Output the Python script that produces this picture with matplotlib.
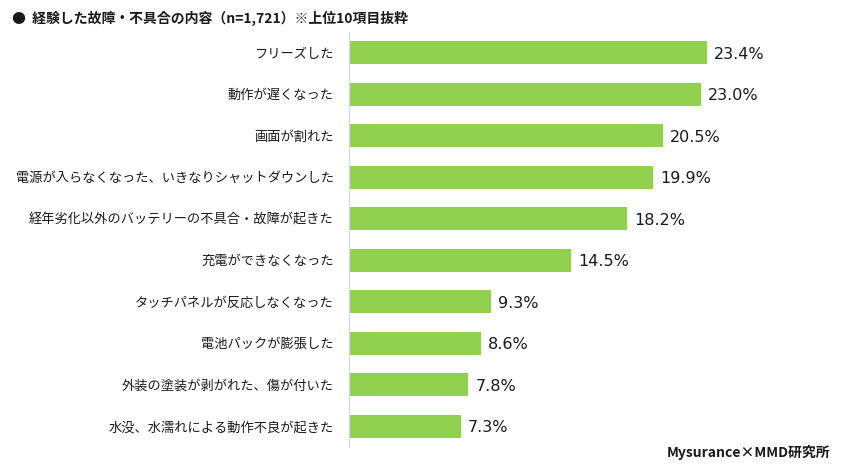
import matplotlib.pyplot as plt

plt.rcParams['font.family'] = ['Noto Sans CJK JP', 'DejaVu Sans']

# ----------------------------------------
# Data
# ----------------------------------------
categories = [
    "フリーズした",
    "動作が遅くなった",
    "画面が割れた",
    "電源が入らなくなった、いきなりシャットダウンした",
    "経年劣化以外のバッテリーの不具合・故障が起きた",
    "充電ができなくなった",
    "タッチパネルが反応しなくなった",
    "電池パックが膨張した",
    "外装の塗装が剥がれた、傷が付いた",
    "水没、水濡れによる動作不良が起きた",
]
values = [23.4, 23.0, 20.5, 19.9, 18.2, 14.5, 9.3, 8.6, 7.8, 7.3]

title = "●  経験した故障・不具合の内容（n=1,721）※上位10項目抜粋"
source = "Mysurance×MMD研究所"

BAR_COLOR = "#92D050"
TEXT_COLOR = "#1a1a1a"

# ----------------------------------------
# Plot
# ----------------------------------------
fig = plt.figure(figsize=(8.41, 4.70), dpi=100)
ax = fig.add_axes([349 / 841, 1 - 447 / 470, 459 / 841, 415 / 470])

y = list(range(len(categories)))
ax.barh(y, values, height=0.55, color=BAR_COLOR)
ax.set_ylim(len(categories) - 0.5, -0.5)
ax.set_xlim(0, 30)

for yi, v in zip(y, values):
    ax.annotate(f"{v:.1f}%", xy=(v, yi), xytext=(5, -1), textcoords="offset points",
                va="center", ha="left", fontsize=11.5, color=TEXT_COLOR,
                family=['DejaVu Sans'])

ax.set_yticks(y)
ax.set_yticklabels(categories, fontsize=9.5, color=TEXT_COLOR)
ax.tick_params(axis="y", length=0, pad=11)
ax.set_xticks([])

for side in ["top", "right", "bottom"]:
    ax.spines[side].set_visible(False)
ax.spines["left"].set_color("#D9D9D9")
ax.spines["left"].set_linewidth(1)

fig.text(12 / 841, 1 - 18 / 470, title, fontsize=10, fontweight="bold",
         va="center", ha="left", color=TEXT_COLOR)
fig.text(830 / 841, 1 - 452 / 470, source, fontsize=10, fontweight="bold",
         va="center", ha="right", color=TEXT_COLOR)

fig.savefig("out.png", dpi=100)
